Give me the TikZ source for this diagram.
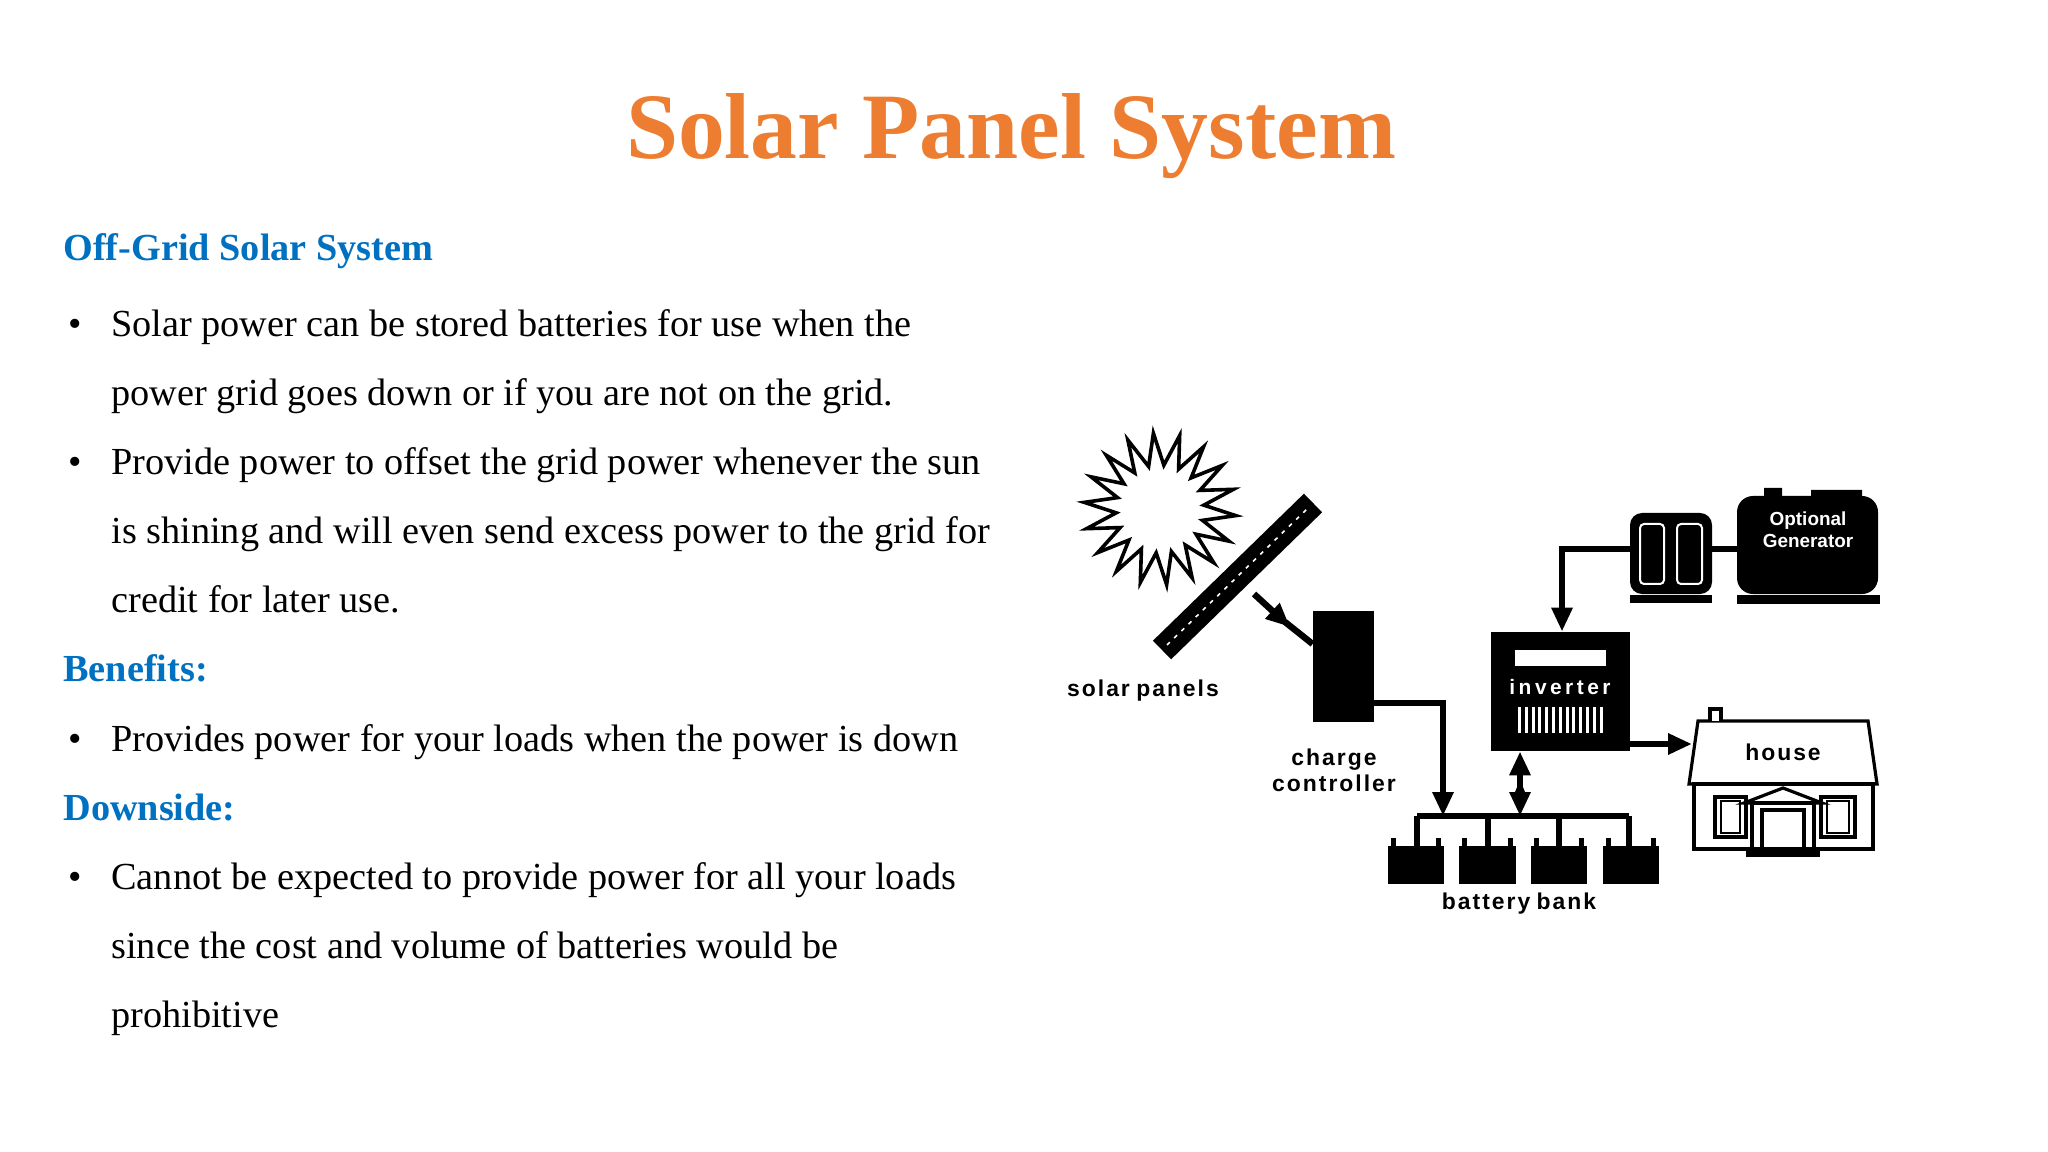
\documentclass[tikz,border=0pt]{standalone}
\usepackage{fontspec}
\setmainfont{Liberation Serif}
\newfontfamily\lsans{Liberation Sans}
\usetikzlibrary{arrows.meta}
\definecolor{ttl}{HTML}{ED7D31}
\definecolor{hd}{HTML}{0070C0}
\newcommand\kk{\kern1pt}
\tikzset{
 body/.style={anchor=base west,font=\fontsize{19.2}{19}\selectfont,inner sep=0},
 head/.style={anchor=base west,font=\fontsize{19.2}{20}\selectfont\bfseries,text=hd,inner sep=0},
 lbl/.style={font=\lsans\bfseries\fontsize{11.5}{13}\selectfont,align=center,inner sep=0},
 wire/.style={line width=3.2bp},
 tip/.style={-{Triangle[length=12bp,width=10bp]}},
 blk/.style={fill=black,draw=none}
}
\begin{document}
\begin{tikzpicture}[x=0.5bp,y=-0.5bp]
\useasboundingbox (0,0) rectangle (2048,1152);
\node[font=\fontsize{47}{47}\selectfont\bfseries,text=ttl,anchor=base] (title) at (1011,159) {Solar Panel System};
\node[head] (h1) at (63,261) {Off-Grid Solar System};
\node[body] (b1) at (68,337) {•};
\node[body] (t1) at (111,337) {Solar power can be stored batteries for use when the};
\node[body] (t2) at (111,406) {power grid goes down or if you are not on the grid.};
\node[body] (b2) at (68,475) {•};
\node[body] (t3) at (111,475) {Provide power to offset the grid power whenever the sun};
\node[body] (t4) at (111,544) {is shining and will even send excess power to the grid for};
\node[body] (t5) at (111,613) {credit for later use.};
\node[head] (h2) at (63,682) {Benefits:};
\node[body] (b3) at (68,751) {•};
\node[body] (t6) at (111,751) {Provides power for your loads when the power is down};
\node[head] (h3) at (63,820) {Downside:};
\node[body] (b4) at (68,889) {•};
\node[body] (t7) at (111,889) {Cannot be expected to provide power for all your loads};
\node[body] (t8) at (111,958) {since the cost and volume of batteries would be};
\node[body] (t9) at (111,1027) {prohibitive};
% sun
\draw[line width=1.8bp,line join=miter] plot[samples at={0,...,36},variable=\k]
 ({1160+(mod(\k,2)==0?76:44)*cos(\k*10+5)},{509+(mod(\k,2)==0?76:44)*sin(\k*10+5)}) -- cycle;
% panel
\draw[line width=13bp] (1162,650) -- (1313,503);
\draw[white,line width=0.8bp,dash pattern=on 2bp off 3bp] (1167,645) -- (1308,508);
\coordinate (pa) at (1254,594);
% charge controller
\node[blk,minimum width=30.5bp,minimum height=55.5bp,inner sep=0] (cc) at (1343.5,666.5) {};
\draw[wire,tip] (pa) -- (1290,627);
\draw[wire] (1285,622) -- (cc.north west |- 0,644);
% inverter
\node[blk,minimum width=69.5bp,minimum height=59.5bp,inner sep=0] (inv) at (1560.5,691.5) {};
\fill[white] (1515,650) rectangle (1606,666);
\node[lbl,text=white,font=\lsans\bfseries\fontsize{10.5}{12}\selectfont] (invt) at (1560,687) {i\,n\,v\,e\,r\,t\,e\,r};
\foreach \i in {0,...,12} \fill[white] (1518+\i*6.8,707) rectangle +(3,26);
% generator
\node[blk,rounded corners=6bp,minimum width=41bp,minimum height=40.5bp,inner sep=0] (eng) at (1671,553.5) {};
\fill (1630,595) rectangle (1712,603);
\draw[white,line width=1bp,rounded corners=2bp] (1640,524) rectangle (1664,584) (1677,524) rectangle (1702,584);
\node[blk,rounded corners=8bp,minimum width=70.5bp,minimum height=49bp,inner sep=0] (gen) at (1807.5,545) {};
\fill (1737,595) rectangle (1880,604);
\fill (1764,488) rectangle (1782,500) (1811,490) rectangle (1862,500);
\node[lbl,text=white,font=\lsans\bfseries\fontsize{9.5}{11}\selectfont] (gent) at (1808,530) {Optional\\Generator};
\draw[wire] (eng.east |- 0,549) -- (gen.west |- 0,549);
\coordinate (gc) at (1562,549);
\draw[wire,tip] (eng.west |- gc) -- (gc) -- (inv.north -| gc);
% house
\draw[line width=1.6bp,fill=white] (1689,784) -- (1698,721) -- (1868,721) -- (1877,784) -- cycle;
\draw[line width=1.6bp,fill=white] (1710,721) -- (1710,709) -- (1721,709) -- (1721,721);
\draw[line width=1.6bp] (1694,784) rectangle (1873,849);
\draw[line width=1.6bp] (1715,797) rectangle (1746,837) (1821,797) rectangle (1855,837);
\draw[line width=1.2bp] (1721,801) rectangle (1740,833) (1827,801) rectangle (1849,833);
\draw[line width=1.6bp] (1744,803) -- (1783,788) -- (1822,803) -- cycle;
\draw[line width=1.6bp] (1752,803) rectangle (1814,849);
\draw[line width=1.6bp] (1762,810) rectangle (1804,849);
\fill (1746,849) rectangle (1820,857);
\node[lbl] (hs) at (1783,752) {h\kk o\kk u\kk s\kk e};
\coordinate (hw) at (1692,744);
\draw[wire,tip] (inv.east |- hw) -- (hw);
% battery bank
\coordinate (bl) at (1417,816);
\coordinate (br) at (1629,816);
\coordinate (bcc) at (1443,816);
\coordinate (binv) at (1520,816);
\draw[wire] (bl) -- (br);
\foreach \x/\l/\r in {1417/1388/1444,1488/1459/1516,1559/1531/1587,1629/1603/1659}{
 \draw[wire] (\x,816) -- (\x,846);
 \fill (\l,846) rectangle (\r,884);
 \fill (\l+3,838) rectangle +(5,8);
 \fill (\r-8,838) rectangle +(5,8);
}
\draw[wire,tip] (cc.east |- 0,703) -- (1443,703) -- (bcc);
\draw[wire,{Triangle[length=12bp,width=10bp]}-{Triangle[length=12bp,width=10bp]}] (inv.south -| binv) -- (binv);
\fill (1520,792) ++(-5,0) -- ++(10,0) -- ++(-5,-12) -- cycle;
\node[lbl] (sp) at (1143,691) {s\kk o\kk l\kk a\kk r\ p\kk a\kk n\kk e\kk l\kk s};
\node[lbl] (cct) at (1334,770) {c\kk h\kk a\kk r\kk g\kk e\\c\kk o\kk n\kk t\kk r\kk o\kk l\kk l\kk e\kk r};
\node[lbl] (bb) at (1519,904) {b\kk a\kk t\kk t\kk e\kk r\kk y\ b\kk a\kk n\kk k};
\end{tikzpicture}
\end{document}
